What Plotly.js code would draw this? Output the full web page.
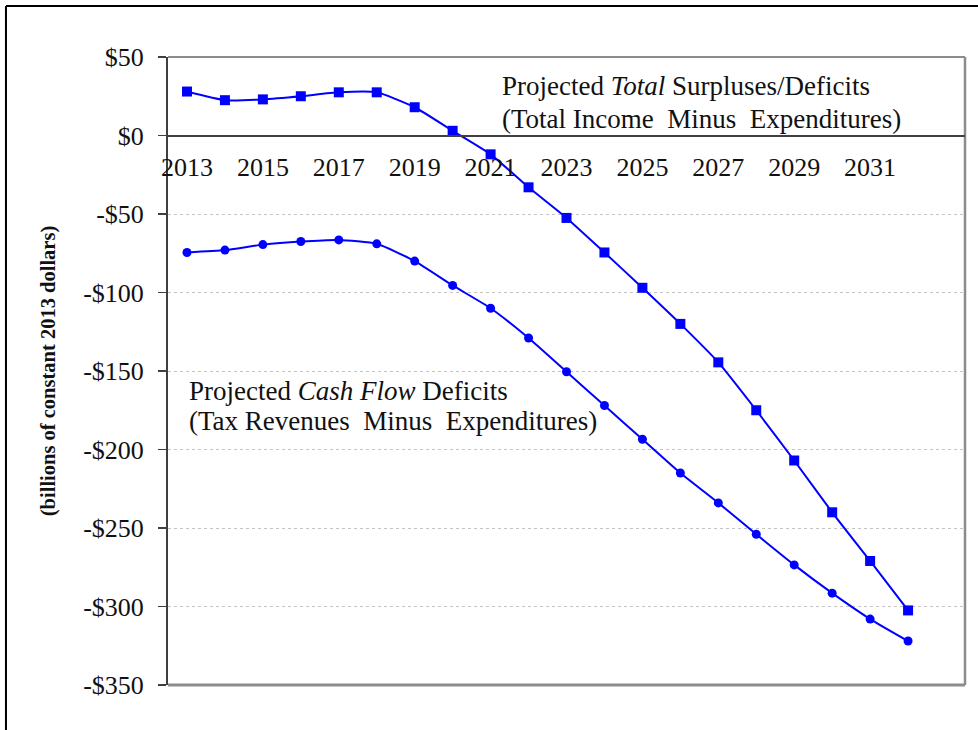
<!DOCTYPE html>
<html>
<head>
<meta charset="utf-8">
<script src="https://cdn.plot.ly/plotly-3.0.1.min.js"></script>
<style>
  html, body { margin: 0; padding: 0; background: #ffffff; }
  #chart { width: 978px; height: 730px; }
</style>
</head>
<body>
<div id="chart"></div>
<script>
// ---- data ----
const years = [2013, 2014, 2015, 2016, 2017, 2018, 2019, 2020, 2021, 2022,
               2023, 2024, 2025, 2026, 2027, 2028, 2029, 2030, 2031, 2032];
const totalSurplus = [28, 22.5, 23, 25, 27.5, 27.5, 18, 3, -12, -33,
                      -52.5, -74.5, -97, -120, -144.5, -175, -207, -240, -271, -302.5];
const cashFlow = [-74.5, -73, -69.5, -67.5, -66.5, -69, -80, -95.5, -110, -129,
                  -150.5, -172, -193.5, -215, -234, -254, -273.5, -291.5, -308, -322];
const xTickVals = [2013, 2015, 2017, 2019, 2021, 2023, 2025, 2027, 2029, 2031];
const xTickText = ['2013', '2015', '2017', '2019', '2021', '2023', '2025', '2027', '2029', '2031'];
const xBoundaryTicks = [2013.5, 2014.5, 2015.5, 2016.5, 2017.5, 2018.5, 2019.5, 2020.5, 2021.5, 2022.5,
                        2023.5, 2024.5, 2025.5, 2026.5, 2027.5, 2028.5, 2029.5, 2030.5, 2031.5, 2032.5];
const yTickVals = [50, 0, -50, -100, -150, -200, -250, -300, -350];
const yTickText = ['$50', '$0', '-$50', '-$100', '-$150', '-$200', '-$250', '-$300', '-$350'];

const serif = 'Liberation Serif';
const blue = '#0000ff';

const traces = [
  {
    x: years, y: totalSurplus, name: 'Projected Total Surpluses/Deficits',
    type: 'scatter', mode: 'lines+markers',
    line: { color: blue, width: 2, shape: 'spline', smoothing: 0.5 },
    marker: { symbol: 'square', size: 10, color: blue },
    xaxis: 'x', yaxis: 'y', showlegend: false
  },
  {
    x: years, y: cashFlow, name: 'Projected Cash Flow Deficits',
    type: 'scatter', mode: 'lines+markers',
    line: { color: blue, width: 2, shape: 'spline', smoothing: 0.5 },
    marker: { symbol: 'circle', size: 9, color: blue },
    xaxis: 'x', yaxis: 'y', showlegend: false
  }
];

const yMin = -350, yMax = 50;
const zeroPos = (0 - yMin) / (yMax - yMin);

const layout = {
  width: 978, height: 730,
  margin: { l: 168, r: 13, t: 57, b: 45 },
  paper_bgcolor: '#ffffff', plot_bgcolor: '#ffffff',
  font: { family: serif, color: '#111111', size: 26 },
  xaxis: {
    type: 'linear', range: [2012.5, 2033.5],
    anchor: 'free', position: zeroPos,
    tickmode: 'array', tickvals: xTickVals, ticktext: xTickText,
    ticks: '', showgrid: false, zeroline: false,
    showline: true, linecolor: '#404040', linewidth: 2,
    tickfont: { family: serif, size: 26, color: '#111111' },
    ticklabelstandoff: 8
  },
  xaxis2: {
    type: 'linear', range: [2012.5, 2033.5], overlaying: 'x', matches: 'x',
    anchor: 'free', position: zeroPos,
    tickmode: 'array', tickvals: xBoundaryTicks,
    ticks: 'outside', ticklen: 9, tickwidth: 1.5, tickcolor: '#404040',
    showticklabels: false, showgrid: false, zeroline: false, showline: false
  },
  yaxis: {
    range: [yMin, yMax],
    tickmode: 'array', tickvals: yTickVals, ticktext: yTickText,
    ticks: 'outside', ticklen: 8, tickwidth: 1.5, tickcolor: '#404040',
    ticklabelstandoff: 9,
    showgrid: true, gridcolor: '#c4c4c4', griddash: 'dot', gridwidth: 1,
    zeroline: false,
    showline: true, linecolor: '#404040', linewidth: 2,
    tickfont: { family: serif, size: 26, color: '#111111' },
    title: {
      text: '<b>(billions of constant 2013 dollars)</b>',
      font: { family: serif, size: 20.5, color: '#111111' },
      standoff: 22
    }
  },
  shapes: [
    { type: 'line', xref: 'paper', yref: 'paper', x0: 0, x1: 1, y0: 1, y1: 1,
      line: { color: '#8c8c8c', width: 2 }, layer: 'below' },
    { type: 'line', xref: 'paper', yref: 'paper', x0: 1, x1: 1, y0: 0, y1: 1,
      line: { color: '#8c8c8c', width: 2.5 }, layer: 'below' },
    { type: 'line', xref: 'paper', yref: 'paper', x0: 0, x1: 1, y0: 0, y1: 0,
      line: { color: '#8c8c8c', width: 3 }, layer: 'below' },
    { type: 'line', xref: 'paper', yref: 'paper', x0: -0.2033, x1: -0.2033, y0: -0.08, y1: 1.0812,
      line: { color: '#000000', width: 2 } },
    { type: 'line', xref: 'paper', yref: 'paper', x0: -0.2033, x1: 1.02, y0: 1.0812, y1: 1.0812,
      line: { color: '#000000', width: 2 } }
  ],
  annotations: [
    { text: 'Projected <i>Total</i> Surpluses/Deficits', xref: 'paper', yref: 'paper',
      x: 0.4166, y: 0.9538, xanchor: 'left', yanchor: 'middle', showarrow: false,
      font: { family: serif, size: 27, color: '#111111' } },
    { text: '(Total Income  Minus  Expenditures)', xref: 'paper', yref: 'paper',
      x: 0.4166, y: 0.9013, xanchor: 'left', yanchor: 'middle', showarrow: false,
      font: { family: serif, size: 27, color: '#111111' } },
    { text: 'Projected <i>Cash Flow</i> Deficits', xref: 'paper', yref: 'paper',
      x: 0.0238, y: 0.4682, xanchor: 'left', yanchor: 'middle', showarrow: false,
      font: { family: serif, size: 27, color: '#111111' } },
    { text: '(Tax Revenues  Minus  Expenditures)', xref: 'paper', yref: 'paper',
      x: 0.0238, y: 0.4204, xanchor: 'left', yanchor: 'middle', showarrow: false,
      font: { family: serif, size: 27, color: '#111111' } }
  ]
};

Plotly.newPlot('chart', traces, layout, { displayModeBar: false, staticPlot: true });
</script>
</body>
</html>
